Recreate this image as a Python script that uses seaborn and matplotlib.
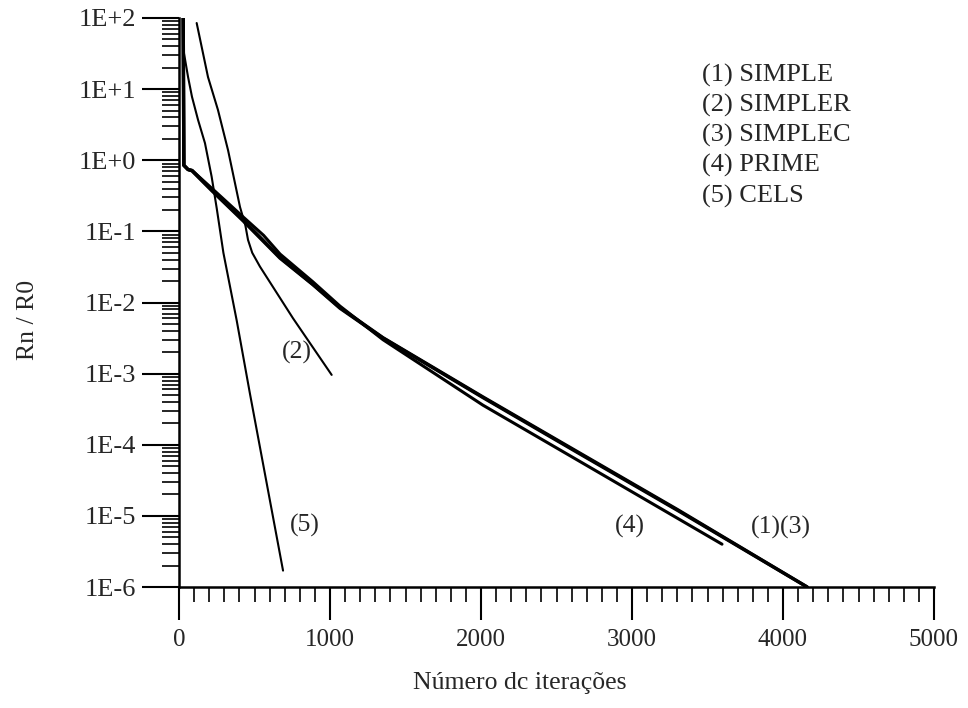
import matplotlib
matplotlib.use("Agg")
import matplotlib.pyplot as plt
import matplotlib.ticker as mticker
import seaborn as sns
import numpy as np
import pandas as pd

# ---------------- data ----------------
simple_x = [28, 32, 60, 86, 219, 424, 669, 887, 1066, 1351, 2013, 2656, 3300, 4160]
simple_y = [100, 0.85, 0.74, 0.72, 0.38, 0.145, 0.043, 0.018, 8.5e-3, 3.2e-3, 4.7e-4, 7.6e-5, 1.23e-5, 1.0e-6]

simplec_x = [28, 32, 60, 86, 219, 424, 669, 887, 1066, 1351, 2013, 2656, 3300, 4160]
simplec_y = [100, 0.85, 0.74, 0.71, 0.37, 0.141, 0.042, 0.0178, 8.3e-3, 3.16e-3, 4.6e-4, 7.4e-5, 1.2e-5, 1.0e-6]

prime_x = [28, 32, 60, 86, 219, 424, 560, 669, 887, 1066, 1351, 2013, 2656, 3596]
prime_y = [100, 0.85, 0.74, 0.72, 0.40, 0.160, 0.088, 0.048, 0.0195, 8.9e-3, 3.0e-3, 3.6e-4, 5.8e-5, 4.0e-6]

simpler_x = [117, 192, 258, 325, 404, 440, 457, 485, 536, 755, 1011]
simpler_y = [85, 14.8, 5.1, 1.38, 0.22, 0.12, 0.076, 0.050, 0.032, 6.0e-3, 9.6e-4]

cels_x = [28, 33, 60, 86, 126, 172, 216, 250, 294, 382, 470, 689]
cels_y = [100, 32, 14.8, 7.8, 3.7, 1.74, 0.59, 0.21, 0.050, 5.6e-3, 5.2e-4, 1.7e-6]

legend_lines = ["(1) SIMPLE", "(2) SIMPLER", "(3) SIMPLEC", "(4) PRIME", "(5) CELS"]
curve_labels = ["(2)", "(5)", "(4)", "(1)(3)"]
curve_label_x = [781, 834, 2987, 3985]
curve_label_y = [2.0e-3, 7.4e-6, 7.0e-6, 6.8e-6]

x_ticks = [0, 1000, 2000, 3000, 4000, 5000]
x_label = "Número dc iterações"
y_label = "Rn / R0"

# ---------------- styling ----------------
sns.set_theme(style="white")
plt.rcParams["font.family"] = ["Liberation Serif", "DejaVu Serif"]

W, H = 968, 708
fig = plt.figure(figsize=(W / 100, H / 100), dpi=100)
ax = fig.add_axes([179 / W, 1 - 587 / H, (934 - 179) / W, (587 - 18) / H])

series = [
    (simple_x, simple_y, 2.4),
    (simplec_x, simplec_y, 2.4),
    (prime_x, prime_y, 2.2),
    (simpler_x, simpler_y, 1.5),
    (cels_x, cels_y, 1.5),
]
for xs, ys, lw in series:
    df = pd.DataFrame({"x": xs, "y": ys})
    sns.lineplot(data=df, x="x", y="y", ax=ax, color="black", linewidth=lw,
                 estimator=None, sort=False, legend=False)

ax.set_yscale("log")
ax.set_xlim(0, 5000)
ax.set_ylim(1e-6, 1e2)

for s in ["top", "right"]:
    ax.spines[s].set_visible(False)
for s in ["left", "bottom"]:
    ax.spines[s].set_color("black")
    ax.spines[s].set_linewidth(1.8)

ax.xaxis.set_major_locator(mticker.FixedLocator(x_ticks))
ax.xaxis.set_minor_locator(mticker.MultipleLocator(100))
ax.set_xticklabels([str(t) for t in x_ticks])

ax.yaxis.set_major_locator(mticker.LogLocator(base=10, numticks=20))
ax.yaxis.set_minor_locator(mticker.LogLocator(base=10, subs=np.arange(2, 10), numticks=20))
ax.yaxis.set_minor_formatter(mticker.NullFormatter())
ax.yaxis.set_major_formatter(mticker.FuncFormatter(
    lambda v, p: "1E{:+d}".format(int(round(np.log10(v))))))

ax.tick_params(axis="y", which="major", direction="out", length=27, width=1.5,
               color="black", labelsize=19, pad=4, left=True)
ax.tick_params(axis="y", which="minor", direction="out", length=12, width=1.2,
               color="black", left=True)
ax.tick_params(axis="x", which="major", direction="out", length=24, width=1.5,
               color="black", labelsize=18, pad=6, bottom=True)
ax.tick_params(axis="x", which="minor", direction="out", length=11, width=1.2,
               color="black", bottom=True)

ax.set_xlabel("")
ax.set_ylabel("")
fig.text(520 / W, 1 - 683 / H, x_label, ha="center", va="center", fontsize=18.5)
fig.text(28 / W, 1 - 320 / H, y_label, ha="center", va="center", fontsize=18.5,
         rotation=90)

for t, xv, yv in zip(curve_labels, curve_label_x, curve_label_y):
    ax.text(xv, yv, t, ha="center", va="center", fontsize=18.5)

leg_y = [75, 105, 135, 165, 196]
for t, yp in zip(legend_lines, leg_y):
    fig.text(702 / W, 1 - yp / H, t, ha="left", va="center", fontsize=19)

fig.savefig("out.png", dpi=100, facecolor="white")
